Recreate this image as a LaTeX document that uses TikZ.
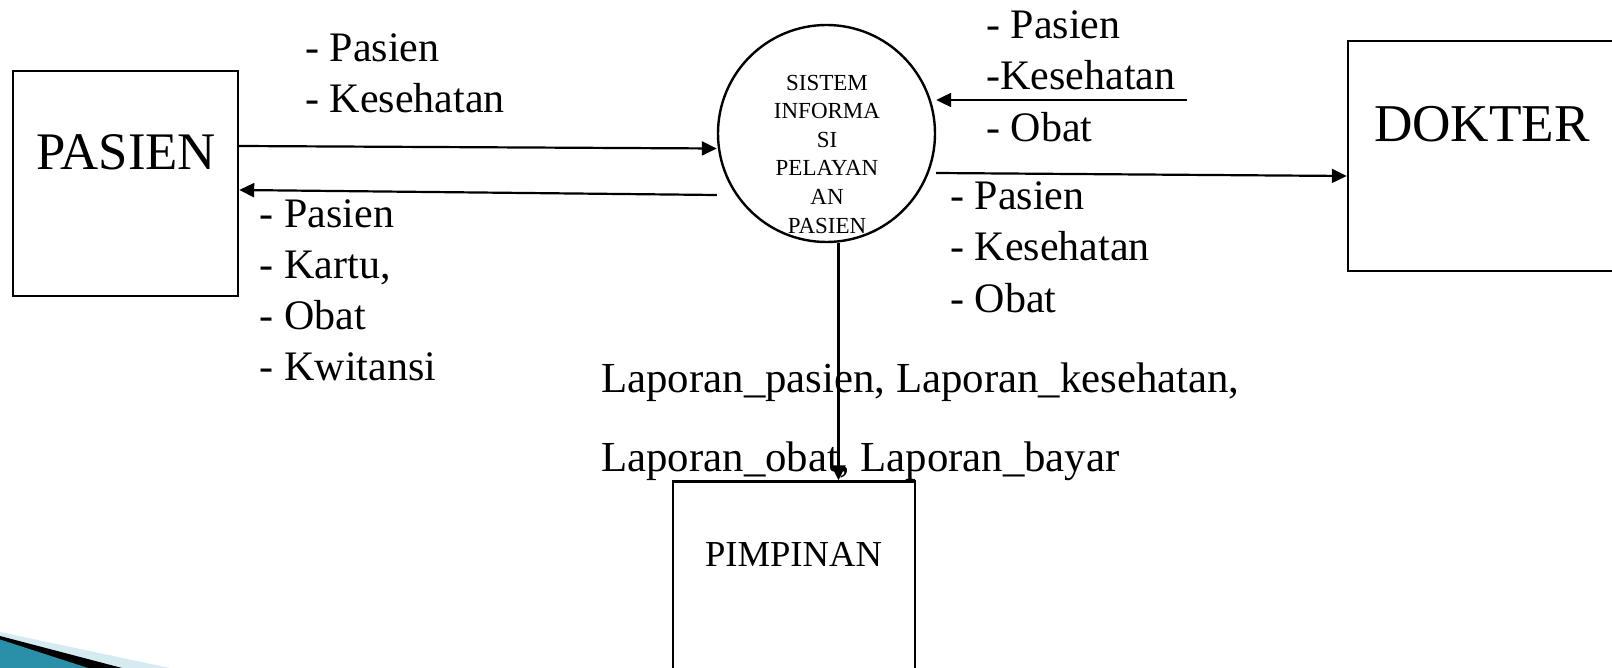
\documentclass[tikz,border=0pt]{standalone}
\usepackage{fontspec}
\setmainfont{Liberation Serif}
\usetikzlibrary{arrows.meta}
\definecolor{swlight}{HTML}{D6EAF2}
\definecolor{swteal}{HTML}{2A8FA8}
\begin{document}
\begin{tikzpicture}[x=0.5pt,y=-0.5pt,
  box/.style={draw, line width=1.2pt, inner sep=0pt},
  arr/.style={line width=1.1pt, -{Triangle[length=7.5pt,width=7pt]}},
  lbl/.style={anchor=north west, inner sep=0pt, align=left, font=\fontsize{21}{25.6}\selectfont},
  ttl/.style={inner sep=0pt},
]
\useasboundingbox (0,0) rectangle (1612,668);
\begin{scope}
\clip (0,0) rectangle (1612,668);
% decorative swoosh
\fill[swlight] (0,632) -- (170,668) -- (0,668) -- cycle;
\fill[black] (0,636) -- (122,668) -- (0,668) -- cycle;
\fill[swteal] (0,639.5) -- (88,668) -- (0,668) -- cycle;

% boxes and process
\node[box, minimum width=112.5pt, minimum height=112.5pt] (pasien) at (125.5,183.5) {};
\node[box, minimum width=141pt, minimum height=115pt] (dokter) at (1489,156) {};
\node[box, minimum width=121pt, minimum height=119.25pt] (pimpinan) at (794,600.75) {};
\node[box, circle, minimum size=108.5pt] (circ) at (826.5,133.5) {};

% titles
\node[ttl, font=\fontsize{26.4}{31}\selectfont] (pasientext) at (126,152) {PASIEN};
\node[ttl, font=\fontsize{26.6}{31}\selectfont] (doktertext) at (1482,124) {DOKTER};
\node[ttl, font=\fontsize{18.3}{22}\selectfont] (pimpinantext) at (793.5,554) {PIMPINAN};
\node[ttl, align=center, font=\fontsize{11.5}{14.3}\selectfont] (circtext) at (827,154)
  {SISTEM\\INFORMA\\SI\\PELAYAN\\AN\\PASIEN};

% labels
\node[lbl] (l1) at (305,33.5) {- Pasien\\- Kesehatan};
\node[lbl] (l2) at (259.5,199) {- Pasien\\- Kartu,\\- Obat\\- Kwitansi};
\node[lbl] (l3) at (986,10.5) {- Pasien\\-Kesehatan\\- Obat};
\node[lbl] (l4) at (950,181.5) {- Pasien\\- Kesehatan\\- Obat};
\node[lbl, font=\fontsize{21.4}{39.5}\selectfont] (l5) at (601,362.5)
  {Laporan\_pasien, Laporan\_kesehatan,\\Laporan\_obat, Laporan\_bayar};

% connectors
\coordinate (src) at (1187,100);
\draw[arr] (pasien.east |- 0,146) -- (circ.west |- 0,148.5);
\draw[arr] (circ.west |- 0,195) -- (pasien.east |- 0,190);
\draw[arr] (src) -- (circ.east |- 0,100);
\draw[arr] (circ.east |- 0,173) -- (dokter.west |- 0,176);
\draw[arr] (circ.south -| 838.5,0) -- (pimpinan.north -| 838.5,0);
\end{scope}
\end{tikzpicture}
\end{document}
